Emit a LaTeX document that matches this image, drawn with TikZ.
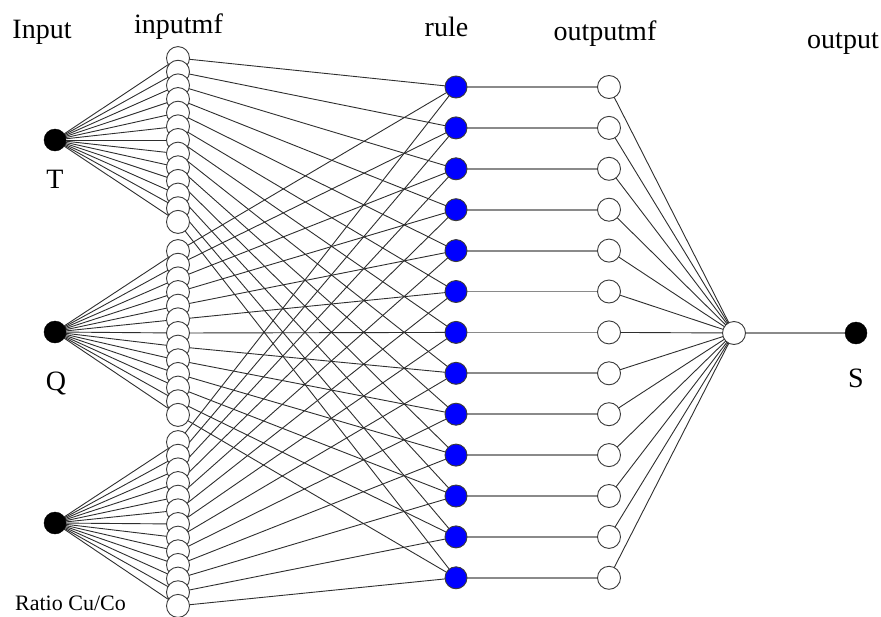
\documentclass[tikz,border=0pt]{standalone}
\usepackage{fontspec}
\setmainfont{Liberation Serif}
\usetikzlibrary{backgrounds}
\definecolor{edgecol}{HTML}{2E2E2E}
\definecolor{rimcol}{HTML}{3A3A3A}
\definecolor{softcol}{HTML}{8A8A8A}
\begin{document}
\begin{tikzpicture}[x=1pt,y=-1pt,
  mfnode/.style={circle,draw=rimcol,line width=0.9pt,fill=white,minimum size=23pt,inner sep=0pt},
  rulenode/.style={circle,draw=rimcol,line width=0.9pt,fill=blue,minimum size=22pt,inner sep=0pt},
  blacknode/.style={circle,draw=black,fill=black,minimum size=22pt,inner sep=0pt},
  link/.style={draw=edgecol,line width=0.9pt},
  softlink/.style={draw=softcol,line width=1.8pt},
  lab/.style={font=\fontsize{28}{32}\selectfont,anchor=base,inner sep=0pt},
  smalllab/.style={font=\fontsize{22}{26}\selectfont,anchor=base,inner sep=0pt}]
\useasboundingbox (0,0) rectangle (881,616);
% inputs
\node[blacknode] (in1) at (55,140) {};
\node[blacknode] (in2) at (55,332) {};
\node[blacknode] (in3) at (55,523) {};
% input membership functions
\foreach \k/\c in {1/140,2/333,3/524}{
  \foreach \i in {1,...,13}{
    \node[mfnode] (mf-\k-\i) at (178,{\c+13.65*(\i-7)}) {};
  }
}
% rules and output mfs
\foreach \i in {1,...,13}{
  \node[rulenode] (rule-\i) at (456,{87+40.9*(\i-1)}) {};
  \node[mfnode] (om-\i) at (609,{87+40.9*(\i-1)}) {};
}
\node[mfnode] (out) at (734,333) {};
\node[blacknode] (S) at (856,333) {};
% connectors
\begin{pgfonlayer}{background}
\foreach \k in {1,2,3}{
  \foreach \i in {1,...,13}{
    \draw[link] (in\k.center) -- (mf-\k-\i.center);
    \draw[link] (mf-\k-\i.center) -- (rule-\i.center);
  }
}
\foreach \i in {1,...,13}{
  \draw[softlink] (rule-\i.center) -- (om-\i.center);
  \draw[link] (om-\i.center) -- (out.center);
}
\draw[softlink] (out.center) -- (S.center);
\end{pgfonlayer}
% labels
\node[lab] (tInput) at (42,38) {Input};
\node[lab] (tinputmf) at (178.5,33) {inputmf};
\node[lab] (trule) at (446.5,36) {rule};
\node[lab] (toutputmf) at (605,40) {outputmf};
\node[lab] (toutput) at (843,48) {output};
\node[lab] (tT) at (55,188) {T};
\node[lab] (tQ) at (56,390) {Q};
\node[lab] (tS) at (856,387) {S};
\node[smalllab] (tRatio) at (70.5,610) {Ratio Cu/Co};
\end{tikzpicture}
\end{document}
